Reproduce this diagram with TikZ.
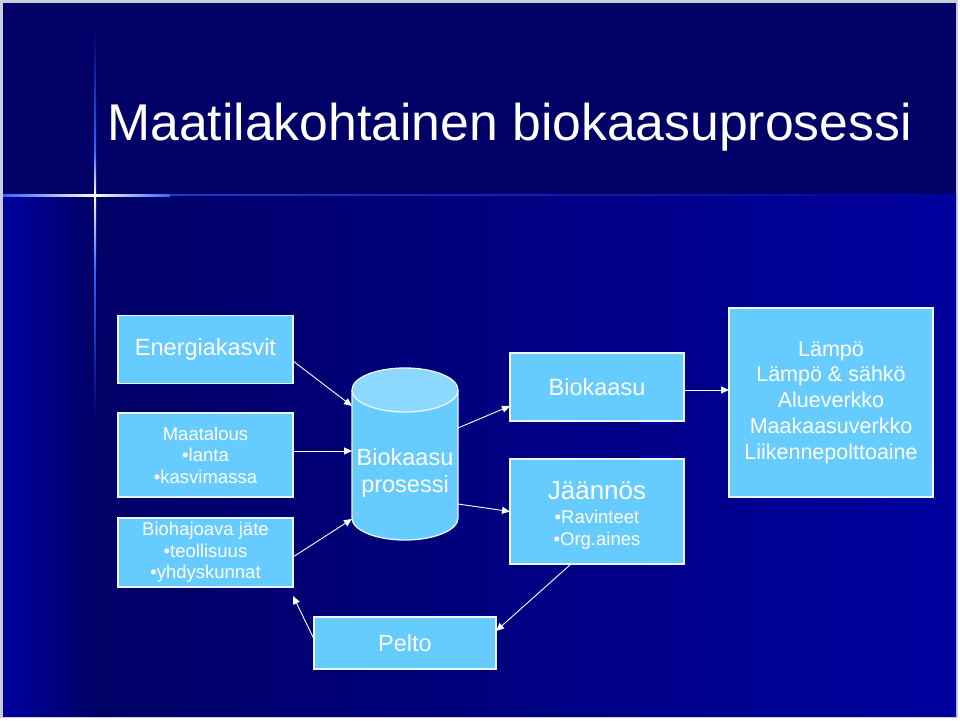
\documentclass[tikz,border=0pt]{standalone}
\usepackage{fontspec}
\setmainfont{Liberation Sans}
\usetikzlibrary{arrows.meta,calc}
\definecolor{navy}{RGB}{0,0,102}
\definecolor{brightb}{RGB}{0,0,158}
\definecolor{boxb}{RGB}{102,204,255}
\definecolor{boxtop}{RGB}{140,216,255}
\definecolor{glow}{RGB}{50,100,255}
\definecolor{framec}{RGB}{200,204,222}
\begin{document}
\begin{tikzpicture}[x=1pt,y=-1pt,
  box/.style={draw=white!85!boxb, line width=1.3pt, fill=boxb, text=white, align=center, inner sep=0pt, outer sep=0pt},
  conn/.style={draw=white, line width=0.9pt, -{Triangle[length=8pt,width=7pt]}},
  big/.style={font=\fontsize{23.5}{27}\selectfont},
  small/.style={font=\fontsize{18.5}{21.5}\selectfont},
]
\useasboundingbox (0,0) rectangle (960,720);
% background
\fill[white] (0,0) rectangle (960,720);
\fill[framec] (0,0) rectangle (958,718);
\fill[navy] (3,3) rectangle (956,716);
\shade[left color=brightb, right color=navy] (3,196) rectangle (95,716);
\shade[left color=navy, right color=brightb] (95,196) rectangle (956,716);
\fill[navy] (3,3) rectangle (956,195);
% glow lines
\shade[top color=navy, bottom color=glow] (94,30) rectangle (96,150);
\shade[top color=glow, bottom color=white] (94,150) rectangle (96,195);
\shade[top color=white, bottom color=glow] (94,195) rectangle (96,270);
\shade[top color=glow, bottom color=navy!80!brightb] (94.5,270) rectangle (95.5,420);
\shade[left color=glow, right color=white] (3,194) rectangle (95,196);
\shade[left color=white, right color=glow] (95,194) rectangle (170,196);
\shade[left color=glow!60!navy, right color=brightb] (170,194.5) rectangle (956,195.5);
% title
\node[anchor=base west, text=white, font=\fontsize{51.7}{60}\selectfont, inner sep=0pt] (title) at (107,140) {Maatilakohtainen biokaasuprosessi};
% left boxes
\node[box, big, minimum width=175pt, minimum height=68pt] (e) at (205.5,349.5) {Energiakasvit};
\node[box, small, minimum width=175pt, minimum height=84pt] (m) at (205.5,455) {Maatalous\\•lanta\\•kasvimassa};
\node[box, small, minimum width=175pt, minimum height=69pt] (b) at (205.5,552.5) {Biohajoava jäte\\•teollisuus\\•yhdyskunnat};
% cylinder
\fill[boxb] (352,390) -- (352,518) arc[start angle=180, end angle=360, x radius=53pt, y radius=22pt] -- (458,390) -- cycle;
\draw[white!85!boxb, line width=1.3pt] (352,390) -- (352,518) arc[start angle=180, end angle=360, x radius=53pt, y radius=22pt] -- (458,390);
\draw[white!85!boxb, line width=1.3pt, fill=boxtop] (405,390) ellipse [x radius=53pt, y radius=22pt];
\node[minimum width=106pt, minimum height=172pt, inner sep=0pt, outer sep=0pt] (cyl) at (405,454) {};
\node[big, text=white, align=center, inner sep=0pt] (cyltext) at (405,473) {Biokaasu\\prosessi};
% middle boxes
\node[box, big, minimum width=174pt, minimum height=68pt] (bk) at (597,387) {Biokaasu};
\node[box, minimum width=174pt, minimum height=105pt] (j) at (597,511.5) {};
\node[anchor=base, text=white, font=\fontsize{26}{30}\selectfont, inner sep=0pt] (jt1) at (597,499) {Jäännös};
\node[anchor=base, text=white, small, inner sep=0pt] (jt2) at (597,523) {•Ravinteet};
\node[anchor=base, text=white, small, inner sep=0pt] (jt3) at (597,545) {•Org.aines};
% right box
\node[box, font=\fontsize{21.5}{25.7}\selectfont, minimum width=204pt, minimum height=189pt] (r) at (831,402.5) {Lämpö\\Lämpö \& sähkö\\Alueverkko\\Maakaasuverkko\\Liikennepolttoaine};
% pelto
\node[box, big, minimum width=182pt, minimum height=52pt] (p) at (405,643) {Pelto};
% connectors
\coordinate (bend) at ([yshift=-9pt]b.south east);
\draw[conn] ([yshift=-11.5pt]e.east) -- ([yshift=48pt]cyl.west);
\draw[conn] ([yshift=4pt]m.east) -- ([yshift=3pt]cyl.west);
\draw[conn] ([yshift=-4.5pt]b.east) -- ([yshift=-65pt]cyl.west);
\draw[conn] ([yshift=26pt]cyl.east) -- ([yshift=-19pt]bk.west);
\draw[conn] ([yshift=-50pt]cyl.east) -- (j.west);
\draw[conn] ([yshift=-3pt]bk.east) -- ([yshift=-3pt]bk.east -| r.west);
\draw[conn] ([xshift=-26pt]j.south) -- ([yshift=12pt]p.east);
\draw[conn] ([yshift=4pt]p.west) -- (bend);
\end{tikzpicture}
\end{document}
